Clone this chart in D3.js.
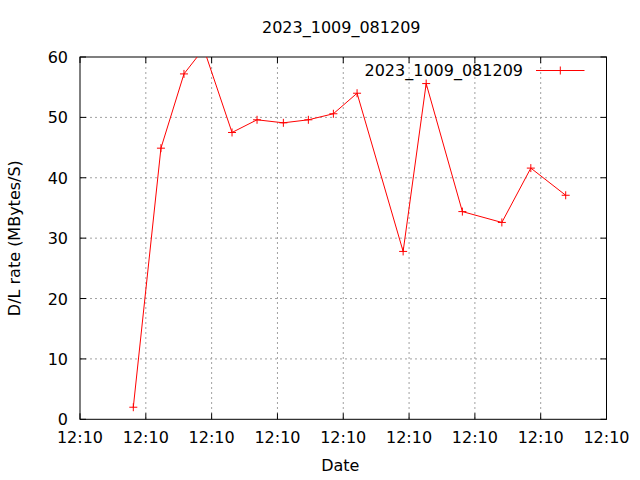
<!DOCTYPE html>
<html><head><meta charset="utf-8">
<script src="https://cdn.jsdelivr.net/npm/d3@7"></script>
<style>body{margin:0;background:#fff}svg{display:block}text{font-family:"DejaVu Sans",sans-serif;font-size:16px;fill:#000}</style>
</head><body><svg id="c" width="640" height="480"></svg>
<script>
const title = "2023_1009_081209";
const seriesName = "2023_1009_081209";
const xLabel = "Date";
const yLabel = "D/L rate (MBytes/S)";
// seconds after 12:10:00
const times = [4.05, 6.15, 7.9, 9.4, 11.55, 13.45, 15.45, 17.35, 19.25, 21.05, 24.55, 26.3, 29.05, 32.05, 34.25, 36.9];
const rates = [2.0, 44.9, 57.2, 61.4, 47.5, 49.6, 49.1, 49.6, 50.6, 54.0, 27.8, 55.6, 34.4, 32.6, 41.6, 37.1];
const xTickValues = [0, 5, 10, 15, 20, 25, 30, 35, 40];
const xTickLabels = ["12:10","12:10","12:10","12:10","12:10","12:10","12:10","12:10","12:10"];
const yTickValues = [0, 10, 20, 30, 40, 50, 60];

const L = 80, R = 606.5, T = 57, B = 419.3;
const svg = d3.select("#c");
const x = d3.scaleLinear().domain([0, 40]).range([L, R]);
const y = d3.scaleLinear().domain([0, 60]).range([B, T]);

// grid
const g = svg.append("g").attr("stroke", "#a0a0a0").attr("stroke-width", 1).attr("stroke-dasharray", "2,3");
xTickValues.slice(1, -1).forEach(v => g.append("line").attr("x1", x(v)).attr("x2", x(v)).attr("y1", T).attr("y2", B));
yTickValues.slice(1, -1).forEach(v => g.append("line").attr("x1", L).attr("x2", R).attr("y1", y(v)).attr("y2", y(v)));

// axes with inward ticks (mirrored)
const tk = 6;
const ax = svg.append("g").attr("stroke", "#000").attr("stroke-width", 1);
xTickValues.forEach(v => {
  ax.append("line").attr("x1", x(v)).attr("x2", x(v)).attr("y1", B).attr("y2", B - tk);
  ax.append("line").attr("x1", x(v)).attr("x2", x(v)).attr("y1", T).attr("y2", T + tk);
});
yTickValues.forEach(v => {
  ax.append("line").attr("x1", L).attr("x2", L + tk).attr("y1", y(v)).attr("y2", y(v));
  ax.append("line").attr("x1", R).attr("x2", R - tk).attr("y1", y(v)).attr("y2", y(v));
});
svg.append("rect").attr("x", L).attr("y", T).attr("width", R - L).attr("height", B - T)
  .attr("fill", "none").attr("stroke", "#000").attr("stroke-width", 1);

// tick labels
xTickValues.forEach((v, i) => svg.append("text").attr("x", x(v)).attr("y", B + 24)
  .attr("text-anchor", "middle").text(xTickLabels[i]));
yTickValues.forEach(v => svg.append("text").attr("x", L - 12).attr("y", y(v) + 6)
  .attr("text-anchor", "end").text(v));

// labels
svg.append("text").attr("x", (L + R) / 2 - 2).attr("y", 33).attr("text-anchor", "middle").text(title);
svg.append("text").attr("x", (L + R) / 2 - 3).attr("y", 471).attr("text-anchor", "middle").text(xLabel);
svg.append("text").attr("transform", `translate(19.5,${(T + B) / 2}) rotate(-90)`).attr("text-anchor", "middle").text(yLabel);

// data
svg.append("clipPath").attr("id", "clip").append("rect").attr("x", L).attr("y", T).attr("width", R - L).attr("height", B - T);
const data = times.map((t, i) => ({t, v: rates[i]}));
const line = d3.line().x(d => x(d.t)).y(d => y(d.v));
svg.append("path").datum(data).attr("d", line).attr("fill", "none").attr("stroke", "#ff0000")
  .attr("stroke-width", 1).attr("clip-path", "url(#clip)");
const ms = 4;
const plus = (cx, cy) => `M${cx - ms},${cy}H${cx + ms}M${cx},${cy - ms}V${cy + ms}`;
svg.append("g").selectAll("path").data(data.filter(d => d.v <= 60 && d.v >= 0)).join("path")
  .attr("d", d => plus(x(d.t), y(d.v))).attr("stroke", "#ff0000").attr("stroke-width", 1).attr("fill", "none");

// legend
const ly = 70.5;
svg.append("text").attr("x", 523).attr("y", ly + 5.5).attr("text-anchor", "end").text(seriesName);
svg.append("line").attr("x1", 536).attr("x2", 584.5).attr("y1", ly).attr("y2", ly).attr("stroke", "#ff0000");
svg.append("path").attr("d", plus(560.3, ly)).attr("stroke", "#ff0000");
</script></body></html>
